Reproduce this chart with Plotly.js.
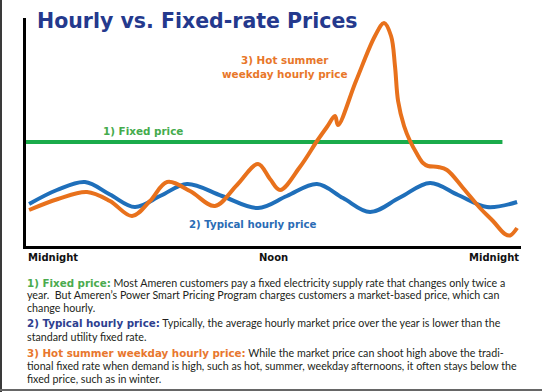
<!DOCTYPE html>
<html><head><meta charset="utf-8">
<script src="https://cdn.plot.ly/plotly-3.0.1.min.js"></script>
<style>
body{margin:0;background:#fff}
#wrap{position:relative;width:542px;height:392px;overflow:hidden}
#chart{position:absolute;left:0;top:0;width:542px;height:392px}
.bl{position:absolute;left:0;top:0;width:2px;height:392px;background:#3a3a3a}
.bb{position:absolute;left:0;top:389px;width:542px;height:2px;background:#666}
</style>
</head><body>
<div id="wrap"><div id="chart"></div><div class="bl"></div><div class="bb"></div></div>
<script>
// Hours after midnight and relative price (arbitrary units)
const hoursTypical = [0.15, 1.50, 2.86, 4.07, 5.28, 6.55, 7.81, 9.50, 11.25, 12.65, 14.11, 15.37, 16.68, 18.13, 19.59, 20.95, 22.35, 23.81];
const priceTypical = [4.2, 5.6, 6.4, 5.15, 3.9, 5.05, 6.2, 5.0, 3.8, 5.0, 6.2, 4.8, 3.4, 4.85, 6.3, 5.1, 3.9, 4.4];

const hoursSummer = [0.15, 1.55, 2.96, 4.07, 5.14, 6.01, 6.84, 7.95, 9.16, 10.23, 11.25, 11.83, 12.32, 13.28, 14.11, 14.59, 14.98, 15.13, 16.00, 16.92, 17.36, 17.70, 17.89, 18.04, 18.33, 18.62, 18.96, 19.25, 19.49, 19.98, 20.41, 21.19, 22.01, 22.64, 23.22, 23.47, 23.81];
const priceSummer = [3.6, 4.7, 5.4, 4.5, 3.0, 4.5, 6.4, 5.5, 4.0, 6.1, 8.2, 6.7, 5.6, 7.9, 10.5, 11.9, 13.0, 12.1, 16.5, 21.0, 22.3, 21.0, 18.0, 14.5, 12.0, 10.5, 9.2, 8.3, 8.0, 7.9, 7.6, 5.8, 3.8, 2.5, 1.2, 1.05, 1.8];

const fixedHours = [0, 23.1];
const fixedPrice = [10.4, 10.4];

const tickHours = [0, 12, 24];
const tickLabels = ['Midnight', 'Noon', 'Midnight'];

const titleText = 'Hourly vs. Fixed-rate Prices';
const seriesLabels = ['1) Fixed price', '2) Typical hourly price', '3) Hot summer<br>weekday hourly price'];

const BOLDF = 'font-family:\'DejaVu Sans\';font-weight:bold;font-size:10.3px';
const bodyLines = [
  '<span style="color:#4aab4e;' + BOLDF + '">1) Fixed price:</span> Most Ameren customers pay a fixed electricity supply rate that changes only twice a',
  'year.  But Ameren’s Power Smart Pricing Program charges customers a market-based price, which can',
  'change hourly.',
  '<span style="color:#2e3f8f;' + BOLDF + '">2) Typical hourly price:</span> Typically, the average hourly market price over the year is lower than the',
  'standard utility fixed rate.',
  '<span style="color:#e8772e;' + BOLDF + '">3) Hot summer weekday hourly price:</span> While the market price can shoot high above the tradi-',
  'tional fixed rate when demand is high, such as hot, summer, weekday afternoons, it often stays below the',
  'fixed price, such as in winter.'
];
const bodyLineY = [282, 294, 307, 322.5, 336, 352, 365, 378];

const GREEN = '#1aab4b', BLUE = '#1f6fba', ORANGE = '#e8711c';
const FONT = 'Lato, "Open Sans", sans-serif';
const BFONT = '"DejaVu Sans", Verdana, sans-serif';
const W = 542, H = 392;
const M = {l: 26, r: 21, t: 18, b: 146};
const PW = W - M.l - M.r, PH = H - M.t - M.b;
const px = x => (x - M.l) / PW;          // pixel -> paper x
const py = y => (H - M.b - y) / PH;      // pixel -> paper y

const traces = [
  {x: fixedHours, y: fixedPrice, mode: 'lines', line: {color: GREEN, width: 4}, hoverinfo: 'skip'},
  {x: hoursTypical, y: priceTypical, mode: 'lines', line: {color: BLUE, width: 4, shape: 'spline', smoothing: 1}, hoverinfo: 'skip'},
  {x: hoursSummer, y: priceSummer, mode: 'lines', line: {color: ORANGE, width: 4, shape: 'spline', smoothing: 1}, hoverinfo: 'skip'}
];

const annotations = [];
tickHours.forEach((h, i) => {
  annotations.push({
    x: h, xref: 'x', y: py(257), yref: 'paper', yanchor: 'middle',
    xanchor: i === 0 ? 'left' : (i === tickHours.length - 1 ? 'right' : 'center'),
    text: '<b>' + tickLabels[i] + '</b>', showarrow: false,
    font: {family: BFONT, size: 10, color: '#111'}
  });
});
annotations.push({x: px(143), xref: 'paper', y: py(131), yref: 'paper', xanchor: 'center', yanchor: 'middle',
  text: '<b>' + seriesLabels[0] + '</b>', showarrow: false, font: {family: BFONT, size: 10.4, color: '#45ab4c'}});
annotations.push({x: px(252), xref: 'paper', y: py(224), yref: 'paper', xanchor: 'center', yanchor: 'middle',
  text: '<b>' + seriesLabels[1] + '</b>', showarrow: false, font: {family: BFONT, size: 10.2, color: '#2a6cb5'}});
annotations.push({x: px(284), xref: 'paper', y: py(67), yref: 'paper', xanchor: 'center', yanchor: 'middle',
  text: '<b>' + seriesLabels[2] + '</b>', showarrow: false, font: {family: BFONT, size: 10.4, color: '#e8772a'}});

bodyLines.forEach((t, i) => {
  annotations.push({x: px(25), xref: 'paper', y: py(bodyLineY[i]), yref: 'paper', xanchor: 'left', yanchor: 'middle',
    text: t, showarrow: false, align: 'left', font: {family: FONT, size: 10.7, color: '#231f20'}});
});

const layout = {
  width: W, height: H,
  margin: {l: M.l, r: M.r, t: M.t, b: M.b, pad: 0},
  paper_bgcolor: '#fff', plot_bgcolor: '#fff',
  showlegend: false, hovermode: false,
  title: {text: '<b>' + titleText + '</b>', x: 37 / W, xref: 'container', xanchor: 'left', y: 1 - 21 / H, yref: 'container', yanchor: 'middle',
    font: {family: BFONT, size: 20.5, color: '#24398d'}},
  xaxis: {range: [0, 24], showgrid: false, zeroline: false, showticklabels: false, ticks: '', showline: true, linecolor: '#000', linewidth: 3, fixedrange: true},
  yaxis: {range: [0, 22.8], showgrid: false, zeroline: false, showticklabels: false, ticks: '', showline: true, linecolor: '#000', linewidth: 3, fixedrange: true},
  annotations: annotations
};

Plotly.newPlot('chart', traces, layout, {displayModeBar: false, staticPlot: true});
</script>
</body></html>
